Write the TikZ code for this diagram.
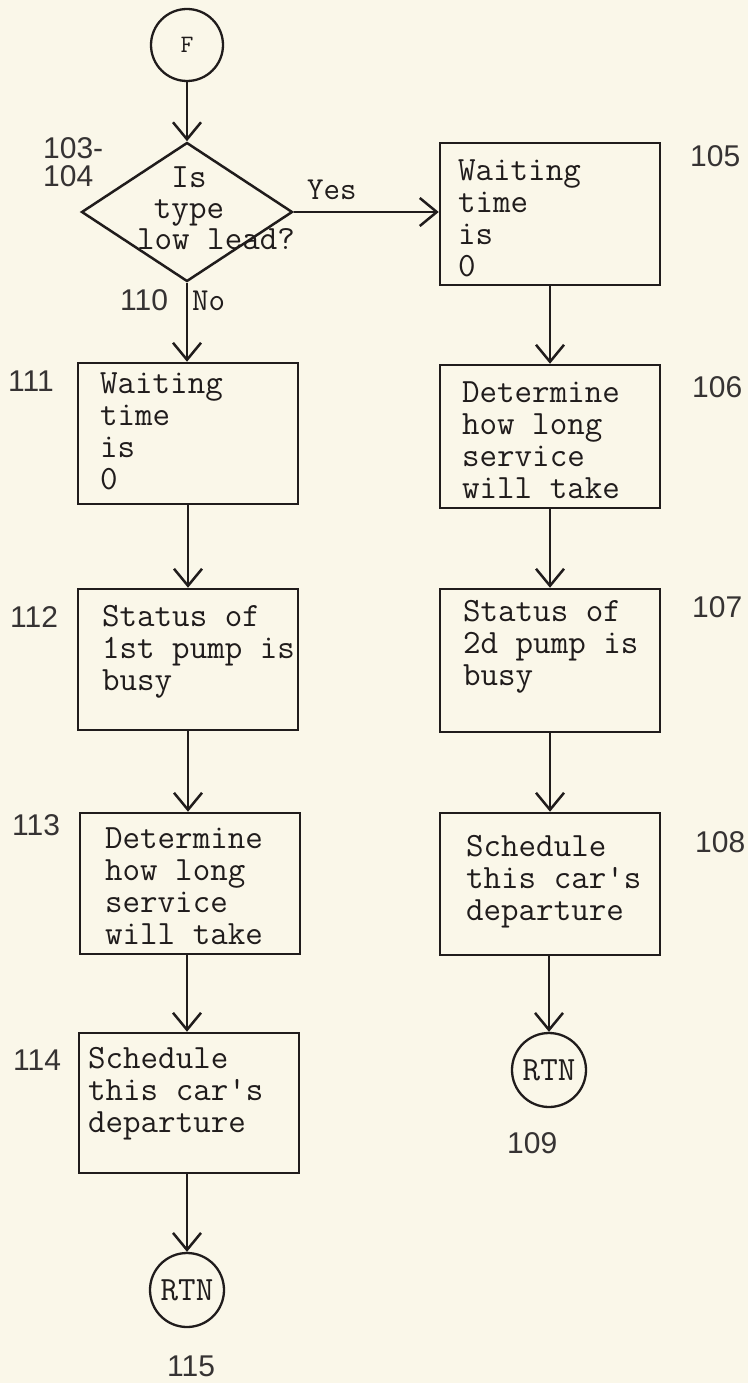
\documentclass[tikz,border=0pt]{standalone}
\usepackage{fontspec}
\setmainfont{Liberation Sans}
\setsansfont{Liberation Sans}
\usetikzlibrary{arrows.meta,shapes.geometric}
\definecolor{paper}{RGB}{250,247,233}
\definecolor{ink}{RGB}{32,28,28}

\begin{document}
\begin{tikzpicture}[x=1pt,y=-1pt,>={Straight Barb[length=17pt,width=28pt]},
    box/.style={draw=ink,line width=2.5pt,rectangle,inner sep=0pt,minimum width=220pt},
    btext/.style={anchor=north west,inner sep=0pt,align=left,text=ink,
      font=\fontsize{34}{32}\ttfamily},
    term/.style={draw=ink,line width=2.3pt,circle,inner sep=0pt,minimum size=74pt,text=ink},
    lbl/.style={anchor=base west,inner sep=0pt,text=ink,font=\fontsize{32}{32}\ttfamily},
    num/.style={anchor=base west,inner sep=0pt,text=ink!90,font=\fontsize{30}{28}\sffamily},
    flow/.style={->,draw=ink,line width=2.5pt}]
  \fill[paper] (0,0) rectangle (748,1383);
  \useasboundingbox (0,0) rectangle (748,1383);

  % entry and decision
  \node[term,minimum size=72pt,font=\fontsize{25}{25}\ttfamily] (f) at (187,45) {F};
  \node[draw=ink,line width=2.5pt,diamond,inner sep=0pt,minimum width=211pt,minimum height=139pt] (dec) at (187,212) {};
  \node[btext,anchor=north,align=center,font=\fontsize{34}{31}\ttfamily] (dect) at (189,167)
    {Is\\type\\\hspace*{54pt}low lead?};

  % low lead branch
  \node[box,minimum height=142pt] (b105) at (550,214) {};
  \node[box,minimum height=143pt] (b106) at (550,436.5) {};
  \node[box,minimum height=143pt] (b107) at (550,660.5) {};
  \node[box,minimum height=142pt] (b108) at (550,884) {};
  \node[term,font=\fontsize{34}{34}\ttfamily] (rtn109) at (549,1070) {RTN};
  \node[btext] (t105) at (458,160) {Waiting\\time\\is\\0};
  \node[btext] (t106) at (462,382) {Determine\\how long\\service\\will take};
  \node[btext] (t107) at (463,600) {Status of\\2d pump is\\busy};
  \node[btext] (t108) at (466,835) {Schedule\\this car's\\departure};

  % other types
  \node[box,minimum height=141pt] (b111) at (188,433.5) {};
  \node[box,minimum height=141pt] (b112) at (188,659.5) {};
  \node[box,minimum height=141pt] (b113) at (190,883.5) {};
  \node[box,minimum height=140pt] (b114) at (189,1103) {};
  \node[term,font=\fontsize{34}{34}\ttfamily] (rtn115) at (187,1290) {RTN};
  \node[btext] (t111) at (100,373) {Waiting\\time\\is\\0};
  \node[btext] (t112) at (102,605) {Status of\\1st pump is\\busy};
  \node[btext] (t113) at (105,828) {Determine\\how long\\service\\will take};
  \node[btext] (t114) at (88,1047) {Schedule\\this car's\\departure};

  % branch labels
  \node[lbl] (yes) at (307,200) {Yes};
  \node[lbl] (no) at (192,310) {No};

  % block numbers
  \node[num,anchor=north west,align=left] (n103) at (43,137) {103-\\104};
  \node[num] (n105) at (690,167) {105};
  \node[num] (n106) at (692,397) {106};
  \node[num] (n107) at (692,617) {107};
  \node[num] (n108) at (695,852) {108};
  \node[num] (n109) at (507,1153) {109};
  \node[num] (n110) at (120,310) {110};
  \node[num] (n111) at (8,391) {111};
  \node[num] (n112) at (10,627) {112};
  \node[num] (n113) at (12,835) {113};
  \node[num] (n114) at (13,1070) {114};
  \node[num] (n115) at (167,1376) {115};

  \draw[flow] (f) -- (dec);
  \draw[flow] (dec.east) -- (dec.east -| b105.west);
  \draw[flow] (dec.south) -- (dec.south |- b111.north);
  \draw[flow] (b105) -- (b106);
  \draw[flow] (b106) -- (b107);
  \draw[flow] (b107) -- (b108);
  \draw[flow] (b108.south -| rtn109) -- (rtn109);
  \draw[flow] (b111) -- (b112);
  \draw[flow] (b112) -- (b112 |- b113.north);
  \draw[flow] (b113.south -| rtn115) -- (b114.north -| rtn115);
  \draw[flow] (b114.south -| rtn115) -- (rtn115);
\end{tikzpicture}
\end{document}
